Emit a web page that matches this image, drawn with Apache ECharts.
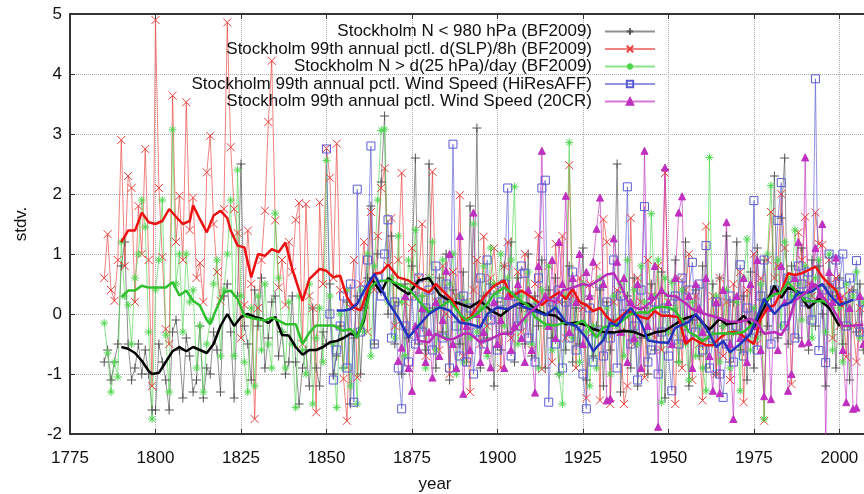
<!DOCTYPE html>
<html lang="en">
<head>
    <meta charset="UTF-8">
    <title>Stockholm storminess</title>
    <script src="https://cdn.jsdelivr.net/npm/echarts@6/dist/echarts.min.js"></script>
    <style>
        html, body { margin: 0; padding: 0; background: #fff; }
    </style>
</head>
<body>
<div id="main" style="width: 864px;height:494px;"></div>

<script>
    // annual series, one value per year from the start year
    var blackStart = 1785;
    var blackVals = [
        -0.8, -0.6, -1.1, -0.8, -0.5,
        0.8, 1.2, -0.5, -1.1, -0.9, -0.5, -1.0, -0.6, -1.0, -1.6,
        -1.6, -0.5, -0.8, -1.1, -1.6, -0.3, -0.1, -0.6, -1.4, -0.4,
        -0.7, -1.3, -1.1, -0.2, -1.4, -0.9, -1.0, -0.3, -0.6, -1.3,
        0.3, 0.5, -0.3, -1.4, 0.3, 2.5, -0.2, -0.5, -1.1, 0.4,
        -0.2, 0.6, -0.9, -0.4, 0.2, 0.3, -0.7, -0.3, -1.0, -0.8,
        0.3, -0.8, -1.5, -0.9, -0.6, -1.2, 0.1, -0.9, -1.2, -0.3,
        -0.5, 0.5, -1.0, -0.7, -0.2, -0.9, 0.2, -1.5, -0.4, 0.3,
        -1.0, 0.1, 0.6, 1.8, -0.5, 1.0, 2.2, 3.3, 0.0, 1.3,
        -0.5, 0.2, -1.0, 0.5, -0.4, 0.8, 2.6, -0.5, 0.3, -0.6,
        2.5, 0.1, -0.9, 0.6, -0.3, 1.0, -1.1, 0.4, 0.2, -0.5,
        0.7, -0.8, 1.8, 0.0, 3.1, -0.9, 0.3, -0.4, 0.5, -1.2,
        0.2, -0.6, 0.8, -0.3, 1.2, -0.8, 0.6, 0.1, -0.5, 1.0,
        -0.7, 0.3, -0.2, 0.9, -0.9, 0.4, -0.4, 0.6, -1.0, 0.2,
        -0.6, 0.8, -0.8, 0.1, -0.5, 1.1, -1.1, 0.3, -0.7, -0.2,
        0.4, -1.2, 0.2, -0.6, -0.1, 2.5, -1.3, -0.3, 0.3, -0.9,
        0.6, -1.2, -0.4, 0.1, -1.0, 0.5, -0.6, -0.3, 0.7, -1.4,
        0.3, -0.5, 0.9, -0.8, -0.2, 1.2, -1.2, -0.1, 0.4, -0.7,
        0.8, -0.9, -0.3, 0.5, -1.0, 0.6, -0.2, 1.3, -0.8, 0.2,
        1.2, -0.6, 0.3, -1.1, 0.7, -0.9, 1.1, -0.3, 0.9, -0.2,
        0.3, 2.3, -0.4, 1.6, 2.6, -0.5, 0.8, 0.3, -0.4, 1.1,
        0.2, -0.6, 0.9, -0.2, 0.8, 0.0, -1.2, 0.5, 0.3, -0.9,
        0.6, -0.5, 0.2, -1.1, 0.4, -0.3, 0.5, -0.6
    ];

    var redStart = 1785;
    var redVals = [
        0.6, 1.33, 0.4, 0.22, 0.9,
        2.9, 0.8, 2.3, 2.1, 0.2, 1.8, 1.0, 2.75, 0.9, -1.2,
        4.9, 2.1, 0.95, -0.25, -0.5, 3.64, 1.2, 1.97, 0.9, 3.53,
        1.4, 1.94, 0.6, 0.85, 0.2, 2.36, 2.97, 1.5, 0.7, 0.22,
        1.75, 4.86, 2.78, 1.75, 1.35, -0.4, 0.15, 1.39, 0.5, -1.75,
        0.1, 0.9, 1.72, 3.2, 4.22, 1.56, 0.44, 0.9, 0.15, 1.2,
        0.7, 1.57, 1.85, -0.5, 1.83, 0.3, 0.1, -1.64, 1.86, 0.5,
        2.76, 2.27, 0.6, 2.84, 0.4, -1.08, -1.78, 0.11, 0.9, -1.06,
        0.5, 1.2, -0.3, 1.7, 0.4, 1.3, 2.1, 2.43, 0.8, 1.6,
        -0.2, 0.9, 2.35, 0.2, -0.9, 1.1, 0.3, 0.6, 1.5, -0.7,
        0.6, 2.37, 0.2, -0.6, 0.8, 0.0, -1.0, 0.7, 0.3, 1.98,
        -0.7, 0.2, -1.3, 0.4, 0.9, -0.5, 1.29, -0.2, 0.6, 1.1,
        0.4, -0.9, 0.8, 1.2, -0.4, 0.3, 0.7, -0.3, 1.0, 0.1,
        -0.6, 0.5, 1.32, -0.92, 0.3, 0.8, -0.8, 1.17, 0.2, 1.3,
        -0.4, 2.48, 0.3, -0.9, 0.6, 0.1, -1.4, 0.5, -0.3, 0.8,
        -1.44, 1.58, 1.2, -1.5, 0.2, 0.4, -0.3, -1.5, -1.2, 1.6,
        -0.5, 0.6, 0.2, -1.06, 0.9, 0.3, -0.4, 0.8, -0.6, 2.35,
        0.2, -0.3, -1.5, 0.6, -0.9, 0.4, 1.0, -1.1, 0.3, -0.5,
        -1.44, 1.46, -0.4, 0.3, -1.0, 0.6, -0.7, 0.2, -1.1, 0.5,
        -0.3, 0.7, -1.47, 0.4, -0.2, 1.0, -0.5, 0.6, -1.78, 0.9,
        1.7, 0.6, 0.8, 2.0, 1.1, 0.6, -1.17, 0.4, 1.36, 0.9,
        1.62, 0.5, 0.3, 1.69, 1.17, 1.15, 0.2, 0.9, -0.4, 0.6,
        -0.2, 0.3, -0.72, 0.4, -0.2, -0.8, 0.1, -0.3
    ];

    var greenStart = 1785;
    var greenVals = [
        -0.15, -0.65, -1.3, -0.8, -1.05,
        1.2, 0.3, 0.15, -0.5, 0.6, 1.0, 1.9, 1.45, -0.3, -1.75,
        0.4, 0.9, 1.9, -0.35, -1.3, 3.07, 0.5, 1.0, -0.3, 1.0,
        0.2, 0.4, -0.9, -0.2, -1.3, -0.5, -0.1, 0.5, 0.9, -0.7,
        0.4, 1.0, 1.9, -0.7, 2.4, 0.3, -0.8, -1.3, 0.1, -1.2,
        0.3, -0.6, 0.5, -0.5, -0.9, 1.68, 0.6, -0.3, -0.9, 0.2,
        -0.5, -1.56, 0.3, -0.6, -1.0, 0.5, -1.5, -0.4, 0.1, -0.8,
        2.56, 0.3, -0.5, -1.56, 0.0, -0.9, 0.4, -1.2, -0.3, -1.5,
        0.4, -0.3, 1.0, -0.7, 0.8, 1.9, 3.06, 3.08, 0.2, 0.6,
        -0.4, 1.3, 0.2, -0.7, 0.9, 0.5, 1.4, -0.2, 0.3, -0.9,
        0.6, 1.2, -0.6, 0.2, 0.9, -0.4, 0.5, 1.0, -1.0, 0.3,
        -0.8, 0.2, -0.4, 1.5, -0.3, 0.1, 0.8, -0.7, 1.1, 0.5,
        0.3, 1.0, -0.2, 0.6, 0.9, 2.12, -0.5, 0.3, -0.1, 0.7,
        -0.5, 0.2, -0.9, 0.4, -0.2, 0.8, -0.6, 0.1, -1.0, -1.5,
        0.3, 2.86, -0.4, 0.2, -0.8, 0.5, -0.3, -1.2, -0.2, -0.9,
        0.6, -0.4, 0.1, -1.0, 0.3, -0.2, 0.5, -0.7, 0.9, -0.3,
        0.4, -0.5, 0.8, 0.2, -0.4, 1.67, 0.3, 0.9, -1.47, 0.6,
        -0.3, 0.53, 0.1, -0.8, 0.4, -0.5, -1.1, 0.2, -0.7, -0.2,
        -0.9, -1.28, 2.61, -0.5, 0.3, -0.8, -0.2, 0.4, -0.9, -0.3,
        0.2, -1.28, 0.6, 1.25, -0.6, 0.1, -0.4, 0.5, -1.75, 1.0,
        2.14, 0.4, 0.9, -0.2, 1.2, 0.6, 0.3, 1.4, 0.5, -0.1,
        0.8, 0.3, -0.4, 0.6, 0.9, 0.2, -0.3, 1.0, -0.6, 0.4,
        0.1, -0.8, 0.5, -0.2, 0.3, 0.7, -0.4, 0.2
    ];

    var blueStart = 1850;
    var blueVals = [
        2.75, 0.0, -1.1, -0.6, -0.2, 0.3, -0.9, 0.5, -1.47, 2.08,
        -0.3, 0.4, 0.9, 2.8, -0.5, 0.6, 0.3, 1.0, 1.57, -0.4,
        0.2, -0.9, -1.58, -0.2, -0.8, 0.3, -0.5, 0.6, -0.3, 0.1,
        0.4, -0.6, 0.8, 0.2, -0.4, 0.5, -0.9, 2.83, -0.2, -0.7,
        0.3, -0.8, 0.1, -1.0, -0.3, 0.6, -0.5, 0.9, -0.1, 0.4,
        -0.6, 0.2, 0.5, 2.1, -0.7, 0.3, -0.2, 0.8, 0.68, -0.4,
        0.1, -0.8, 0.6, 2.1, 2.23, -1.47, 0.2, -0.5, 0.4, -0.9,
        0.2, -0.4, 0.7, -0.6, -0.2, -1.0, -1.58, 0.1, -0.8, -0.3,
        0.5, -0.7, 0.2, -0.4, 0.9, -0.9, 0.3, 0.0, 2.12, -0.5,
        -0.2, -1.1, 0.4, 1.79, -0.8, -0.6, 0.2, -1.0, -0.3, 0.1,
        -0.7, -1.28, 0.3, -0.5, 0.6, -0.2, 0.4, 0.86, -0.3, 0.5,
        -0.6, 1.14, -0.9, -0.4, 0.2, -1.0, -1.39, -0.5, 0.3, -0.8,
        -0.2, 0.82, -0.7, 0.1, -0.4, 1.89, -0.6, 0.3, 0.9, 0.2,
        -0.5, 0.4, 1.56, 2.19, -0.2, 0.6, 0.3, -0.4, 0.8, 0.5,
        0.2, 0.7, -0.1, 3.92, -0.61, 0.4, -0.81, 1.0, 0.3, 0.9,
        0.5, 1.0, -0.2, 0.6, 0.3, 0.89, -0.3, 0.2
    ];

    var magentaStart = 1871;
    var magentaVals = [
        -0.78, -0.56, 0.3, -0.9, -1.28, -0.2, -0.6, 0.1, -0.8,
        -0.3, -1.06, 0.2, -0.7, -0.1, 0.72, 1.0, -0.5, -0.9, 1.3,
        -1.33, -0.2, -0.6, 1.69, 0.0, -0.8, -0.3, -0.6, -0.89, 0.2,
        -0.5, -0.1, -0.9, 0.3, -0.6, -0.2, 0.5, -0.4, -0.8, 0.4,
        -0.6, -1.31, 0.8, 2.72, 0.3, -0.2, 0.9, -0.4, 1.2, 0.5,
        1.97, -0.3, 0.6, 0.2, 1.0, -0.5, 0.7, 0.3, 0.87, 1.42,
        1.94, 0.5, -1.44, -1.41, 1.26, 0.87, -0.3, 0.6, -0.8, 0.2,
        -0.4, 0.5, -0.9, 2.72, -0.2, 0.3, 0.8, -1.88, 0.4, 2.44,
        0.2, -0.5, 0.6, 1.69, 1.96, -0.4, 0.3, -0.9, 0.5, 0.1,
        -0.3, 0.6, -0.7, -1.28, 0.2, -1.32, 0.4, 1.53, -0.5, -1.75,
        0.3, -0.4, 0.6, -0.8, 0.5, -0.2, 0.9, -0.6, -1.37, 0.1,
        -1.42, 0.4, -0.6, 0.8, 0.2, -1.28, -1.0, 0.6, 1.2, -0.49,
        2.61, -0.47, 0.5, 1.1, 0.3, 1.5, -2.1, 0.7, 0.2, 0.94,
        0.3, -0.6, -1.47, 0.1, -1.58, -1.56, 0.3, -0.5
    ];

    // smoothed curves, [year, stdv]
    var blackSmooth = [
        [1790,-0.55],[1792,-0.58],[1794,-0.65],[1796,-0.78],[1798,-0.95],[1799,-1.0],[1801,-0.98],[1803,-0.8],
        [1805,-0.62],[1807,-0.55],[1809,-0.62],[1811,-0.55],[1813,-0.6],[1815,-0.65],[1817,-0.5],[1819,-0.2],
        [1821,0.0],[1823,-0.2],[1825,-0.05],[1827,0.0],[1829,-0.05],[1831,-0.08],[1833,-0.15],[1835,-0.05],
        [1837,-0.35],[1839,-0.36],[1841,-0.55],[1843,-0.68],[1845,-0.6],[1847,-0.6],[1849,-0.55],[1851,-0.47],
        [1853,-0.45],[1855,-0.4],[1857,-0.33],[1859,-0.36],[1861,-0.1],[1863,0.6],[1866,0.36],[1868,0.6],
        [1871,0.44],[1874,0.33],[1877,0.56],[1880,0.6],[1883,0.33],[1886,0.22],[1889,0.17],[1892,0.11],
        [1895,0.22],[1898,0.06],[1901,-0.03],[1904,0.11],[1906,0.17],[1909,0.17],[1912,0.05],[1914,0.0],
        [1917,-0.03],[1920,-0.17],[1923,-0.14],[1926,-0.19],[1928,-0.25],[1931,-0.3],[1934,-0.31],[1937,-0.28],
        [1940,-0.3],[1943,-0.37],[1946,-0.31],[1949,-0.28],[1952,-0.17],[1955,-0.07],[1958,-0.02],[1960,-0.15],
        [1962,-0.26],[1965,-0.08],[1967,-0.17],[1970,-0.14],[1972,-0.03],[1975,-0.22],[1978,0.11],[1981,0.47],
        [1983,0.27],[1985,0.44],[1988,0.37],[1991,0.1],[1994,0.25],[1997,0.1],[2000,-0.2]
    ];
    var redSmooth = [
        [1790,1.2],[1792,1.39],[1794,1.39],[1796,1.69],[1798,1.53],[1800,1.5],[1802,1.55],[1804,1.75],
        [1806,1.62],[1808,1.5],[1810,1.55],[1811,1.81],[1813,1.58],[1815,1.36],[1817,1.64],[1819,1.72],
        [1821,1.6],[1822,1.39],[1824,1.14],[1826,1.11],[1828,0.61],[1830,1.0],[1832,0.97],[1834,1.08],
        [1836,1.03],[1838,1.19],[1840,0.75],[1843,0.22],[1845,0.58],[1848,0.75],[1850,0.72],[1852,0.61],
        [1854,0.64],[1856,0.28],[1858,0.11],[1860,0.06],[1862,0.39],[1864,0.67],[1866,0.69],[1868,0.82],
        [1871,0.61],[1874,0.56],[1877,0.44],[1880,0.36],[1882,0.5],[1885,0.33],[1887,0.22],[1890,-0.11],
        [1892,-0.06],[1894,0.11],[1896,0.28],[1899,0.47],[1902,0.56],[1904,0.28],[1907,0.39],[1910,0.28],
        [1913,0.15],[1915,0.25],[1918,0.36],[1920,0.25],[1922,0.42],[1924,0.2],[1926,0.15],[1928,0.05],
        [1930,0.1],[1932,-0.05],[1934,-0.15],[1936,-0.05],[1938,0.05],[1940,0.0],[1942,-0.05],[1944,-0.08],
        [1946,0.05],[1948,-0.03],[1950,-0.03],[1953,-0.05],[1955,-0.5],[1957,-0.4],[1959,-0.47],[1961,-0.52],
        [1963,-0.52],[1965,-0.4],[1967,-0.32],[1969,-0.3],[1971,-0.33],[1973,-0.42],[1975,-0.5],[1977,-0.08],
        [1979,0.1],[1981,0.15],[1983,0.37],[1985,0.68],[1987,0.65],[1989,0.68],[1991,0.73],[1993,0.79],
        [1995,0.62],[1997,0.5],[1999,0.4],[2001,0.12]
    ];
    var greenSmooth = [
        [1790,0.28],[1792,0.39],[1794,0.39],[1796,0.47],[1798,0.44],[1800,0.44],[1803,0.44],[1805,0.53],
        [1807,0.31],[1809,0.39],[1811,0.22],[1813,0.14],[1815,-0.1],[1816,-0.17],[1818,0.11],[1820,0.36],
        [1822,0.39],[1824,0.25],[1826,-0.03],[1829,-0.08],[1832,-0.11],[1834,-0.06],[1836,-0.11],[1838,-0.17],
        [1841,-0.17],[1843,-0.5],[1845,-0.31],[1847,-0.19],[1850,-0.19],[1852,-0.19],[1855,-0.28],[1857,-0.25],
        [1859,-0.39],[1861,-0.05],[1863,0.45],[1865,0.55],[1868,0.56],[1871,0.5],[1874,0.42],[1877,0.22],
        [1880,0.03],[1883,0.11],[1886,0.22],[1889,0.0],[1891,-0.11],[1894,0.0],[1897,0.17],[1899,0.33],
        [1902,0.44],[1904,0.36],[1906,0.25],[1909,0.14],[1911,-0.05],[1914,-0.17],[1917,-0.19],[1920,-0.14],
        [1922,-0.19],[1925,-0.11],[1927,-0.25],[1929,-0.39],[1931,-0.22],[1934,-0.19],[1936,-0.14],[1939,0.0],
        [1942,0.03],[1944,0.02],[1946,0.1],[1948,0.12],[1950,0.11],[1952,0.05],[1954,-0.1],[1956,-0.3],
        [1958,-0.36],[1960,-0.45],[1963,-0.33],[1966,-0.32],[1969,-0.33],[1972,-0.3],[1975,-0.15],[1978,0.2],
        [1981,0.33],[1983,0.35],[1985,0.53],[1987,0.4],[1990,0.22],[1993,0.21],[1995,0.22],[1997,0.17]
    ];
    var blueSmooth = [
        [1853,0.06],[1855,0.06],[1857,0.08],[1859,0.17],[1861,0.39],[1864,0.67],[1866,0.42],[1868,0.2],
        [1871,-0.06],[1874,-0.39],[1877,-0.19],[1880,0.0],[1883,0.11],[1886,0.06],[1889,-0.14],[1892,-0.17],
        [1895,-0.22],[1897,0.0],[1900,0.11],[1903,0.08],[1906,0.17],[1908,0.11],[1911,0.05],[1914,-0.02],
        [1917,0.11],[1920,-0.14],[1923,-0.2],[1926,-0.4],[1928,-0.62],[1931,-0.43],[1933,-0.14],[1935,-0.2],
        [1937,-0.03],[1939,0.1],[1942,-0.14],[1944,-0.44],[1947,-0.47],[1950,-0.48],[1952,-0.23],[1956,-0.13],
        [1958,0.0],[1960,-0.14],[1962,-0.33],[1964,-0.55],[1966,-0.45],[1968,-0.64],[1971,-0.5],[1974,-0.33],
        [1976,-0.05],[1978,0.25],[1981,0.0],[1983,0.13],[1986,0.2],[1988,0.36],[1990,0.35],[1992,0.38],
        [1995,0.5],[1997,0.33],[2000,0.15],[2002,0.19],[2004,0.24]
    ];
    var magentaSmooth = [
        [1876,-0.25],[1877,-0.45],[1880,-0.47],[1882,-0.33],[1885,-0.42],[1887,-0.42],[1890,-0.33],[1892,-0.33],
        [1895,-0.47],[1898,-0.42],[1901,-0.33],[1904,-0.33],[1906,-0.19],[1909,0.0],[1912,0.15],[1914,0.28],
        [1917,0.19],[1919,0.39],[1922,0.44],[1925,0.5],[1927,0.47],[1930,0.58],[1932,0.66],[1934,0.68],
        [1936,0.48],[1938,0.22],[1940,0.11],[1942,0.08],[1945,0.2],[1948,0.38],[1950,0.3],[1952,0.3],
        [1955,0.18],[1957,0.08],[1959,0.03],[1962,-0.02],[1965,-0.07],[1968,-0.13],[1971,-0.13],[1974,-0.08],
        [1976,-0.15],[1978,-0.33],[1981,-0.3],[1983,-0.35],[1985,-0.16],[1987,0.22],[1990,0.35],[1993,0.5],
        [1995,0.3],[1998,0.1],[2001,-0.2],[2003,-0.2],[2007,-0.18]
    ];

    var names = [
        'Stockholm N < 980 hPa (BF2009)',
        'Stockholm 99th annual pctl. d(SLP)/8h (BF2009)',
        'Stockholm N > d(25 hPa)/day (BF2009)',
        'Stockholm 99th annual pctl. Wind Speed (HiResAFF)',
        'Stockholm 99th annual pctl. Wind Speed (20CR)'
    ];

    function toPairs(start, vals) {
        return vals.map(function (v, i) { return [start + i, v]; });
    }

    var plusPath = 'path://M0,5L10,5M5,0L5,10';
    var crossPath = 'path://M0,0L10,10M0,10L10,0';
    var starPath = 'path://M0,5L10,5M5,0L5,10M1.5,1.5L8.5,8.5M1.5,8.5L8.5,1.5';
    var boxPath = 'path://M0,0L10,0L10,10L0,10Z';

    function annual(name, data, color, symbol, size, fill) {
        return {
            name: name,
            type: 'line',
            data: data,
            symbol: symbol,
            symbolSize: size,
            showAllSymbol: true,
            lineStyle: { color: color, width: 1, opacity: 0.65 },
            itemStyle: { color: fill, borderColor: color, borderWidth: 1 }
        };
    }

    function smooth(name, data, color) {
        return {
            name: name,
            type: 'line',
            data: data,
            symbol: 'none',
            lineStyle: { color: color, width: 2.5 },
            z: 5
        };
    }

    var myChart = echarts.init(document.getElementById('main'));
    var fontName = '"Liberation Sans", Arial, sans-serif';

    var option = {
        animation: false,
        backgroundColor: '#fff',
        textStyle: { fontFamily: fontName },
        grid: { left: 70, right: 0, top: 14, bottom: 60, outerBoundsMode: 'none' },
        legend: {
            data: names,
            orient: 'vertical',
            right: 208,
            top: 23,
            padding: 0,
            align: 'right',
            itemWidth: 50,
            itemHeight: 8,
            itemGap: 0.5,
            textStyle: { fontSize: 17, color: '#111', lineHeight: 17, padding: [0, 8, 0, 0], fontFamily: fontName }
        },
        xAxis: [{
            type: 'value',
            min: 1775,
            max: 2007.2,
            interval: 25,
            name: 'year',
            nameLocation: 'middle',
            nameGap: 42,
            nameTextStyle: { fontSize: 17, color: '#111', padding: [0, 64, 0, 0] },
            axisLine: { onZero: false, lineStyle: { color: '#333', width: 2 } },
            axisTick: { inside: true, length: 5, lineStyle: { color: '#333' } },
            axisLabel: {
                fontSize: 17, color: '#111', margin: 16, showMaxLabel: false,
                formatter: function (v) { return String(v); }
            },
            splitLine: { show: true, lineStyle: { color: '#aaa', type: 'dotted', width: 1 } }
        }, {
            type: 'value',
            position: 'top',
            min: 1775,
            max: 2007.2,
            interval: 25,
            axisLine: { show: true, onZero: false, lineStyle: { color: '#333', width: 2 } },
            axisTick: { show: true, inside: true, length: 5, lineStyle: { color: '#333' } },
            axisLabel: { show: false },
            splitLine: { show: false }
        }],
        yAxis: {
            type: 'value',
            min: -2,
            max: 5,
            interval: 1,
            name: 'stdv.',
            nameLocation: 'middle',
            nameGap: 40,
            nameRotate: 90,
            nameTextStyle: { fontSize: 17, color: '#111' },
            axisLine: { show: true, onZero: false, lineStyle: { color: '#333', width: 2 } },
            axisTick: { show: true, inside: true, length: 5, lineStyle: { color: '#333' } },
            axisLabel: { fontSize: 17, color: '#111', margin: 8 },
            splitLine: { show: true, lineStyle: { color: '#aaa', type: 'dotted', width: 1 } }
        },
        series: [
            annual(names[0], toPairs(blackStart, blackVals), '#555555', plusPath, 9, '#555555'),
            annual(names[1], toPairs(redStart, redVals), '#e8403c', crossPath, 8, '#e8403c'),
            annual(names[2], toPairs(greenStart, greenVals), '#4fd64f', starPath, 8, '#4fd64f'),
            annual(names[3], toPairs(blueStart, blueVals), '#5a5ad2', boxPath, 8, 'rgba(255,255,255,0)'),
            annual(names[4], toPairs(magentaStart, magentaVals), '#c030c0', 'triangle', 7, '#c030c0'),
            smooth('N < 980 smoothed', blackSmooth, '#000000'),
            smooth('d(SLP)/8h smoothed', redSmooth, '#ee1111'),
            smooth('d(25 hPa)/day smoothed', greenSmooth, '#2fbf2f'),
            smooth('HiResAFF smoothed', blueSmooth, '#2233bb'),
            smooth('20CR smoothed', magentaSmooth, '#b82cb8')
        ]
    };

    myChart.setOption(option);
</script>
</body>
</html>
